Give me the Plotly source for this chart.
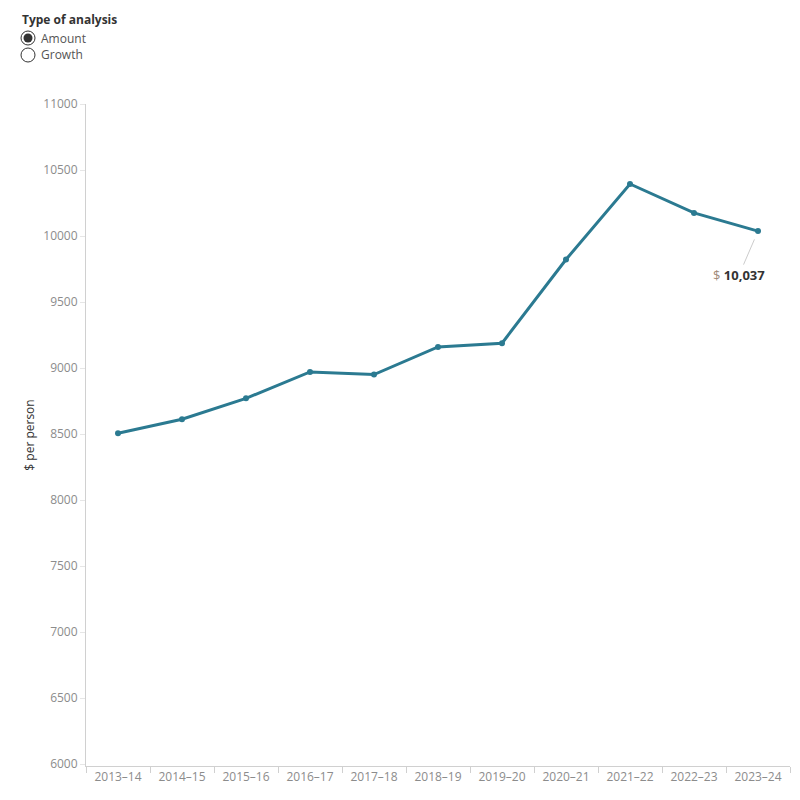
import plotly.graph_objects as go

years = ["2013–14", "2014–15", "2015–16", "2016–17", "2017–18", "2018–19",
         "2019–20", "2020–21", "2021–22", "2022–23", "2023–24"]
amount = [8506, 8612, 8770, 8970, 8950, 9160, 9188, 9822, 10394, 10175, 10037]
y_ticks = [6000, 6500, 7000, 7500, 8000, 8500, 9000, 9500, 10000, 10500, 11000]

LINE = "#2b7a91"
GRAY = "#8c8c8c"
AX = "#d0d0d0"
FONT = "Open Sans"

fig = go.Figure()
fig.add_trace(go.Scatter(
    x=years, y=amount, mode="lines+markers",
    line=dict(color=LINE, width=3),
    marker=dict(color=LINE, size=6),
    hoverinfo="x+y", showlegend=False,
))

W, H = 800, 800
L, R, T, B = 86, 10, 104, 34
pw = W - L - R
ph = H - T - B

def px(x):
    return (x - L) / pw

def py(y):
    return (H - B - y) / ph

shapes = []
# radio buttons
for cy, filled in [(38, True), (55, False)]:
    shapes.append(dict(type="circle", xref="paper", yref="paper",
                       xsizemode="pixel", ysizemode="pixel",
                       xanchor=px(28), yanchor=py(cy),
                       x0=-7, x1=7, y0=-7, y1=7,
                       line=dict(color="#333333", width=1), fillcolor="white"))
    if filled:
        shapes.append(dict(type="circle", xref="paper", yref="paper",
                           xsizemode="pixel", ysizemode="pixel",
                           xanchor=px(28), yanchor=py(cy),
                           x0=-4.5, x1=4.5, y0=-4.5, y1=4.5,
                           line=dict(color="#333333", width=0), fillcolor="#333333"))

annotations = [
    dict(xref="paper", yref="paper", x=px(20), y=py(20), xanchor="left", yanchor="middle",
         text="<b>Type of analysis</b>", showarrow=False,
         font=dict(family=FONT, size=12, color="#333333")),
    dict(xref="paper", yref="paper", x=px(39), y=py(38), xanchor="left", yanchor="middle",
         text="Amount", showarrow=False, font=dict(family=FONT, size=12, color="#555555")),
    dict(xref="paper", yref="paper", x=px(39), y=py(55), xanchor="left", yanchor="middle",
         text="Growth", showarrow=False, font=dict(family=FONT, size=12, color="#555555")),
    dict(x=years[-1], y=amount[-1], xref="x", yref="y",
         text="<span style='color:#a08a78'>$</span> <b>10,037</b>",
         showarrow=True, arrowhead=0, arrowwidth=1, arrowcolor="#cccccc",
         ax=-19, ay=44, standoff=9,
         font=dict(family=FONT, size=13, color="#333333")),
]

fig.update_layout(
    width=W, height=H,
    margin=dict(l=L, r=R, t=T, b=B, pad=0),
    paper_bgcolor="white", plot_bgcolor="white",
    font=dict(family=FONT, size=12, color=GRAY),
    shapes=shapes, annotations=annotations,
    showlegend=False,
    xaxis=dict(type="category", categoryorder="array", categoryarray=years,
               showgrid=False, zeroline=False, showline=True, linecolor=AX, linewidth=1,
               ticks="outside", tickson="boundaries", ticklen=6, tickcolor=AX,
               tickfont=dict(family=FONT, size=12, color=GRAY),
               range=[-0.5, len(years) - 0.5], fixedrange=True),
    yaxis=dict(range=[5985, 11000], tickvals=y_ticks, ticktext=[str(v) for v in y_ticks],
               showgrid=False, zeroline=False, showline=True, linecolor=AX, linewidth=1,
               ticks="outside", ticklen=5, tickcolor="#e6e6e6",
               tickfont=dict(family=FONT, size=12, color=GRAY),
               title=dict(text="$ per person", font=dict(family=FONT, size=12, color="#333333"),
                          standoff=6)),
)

fig.write_html("out.html")
